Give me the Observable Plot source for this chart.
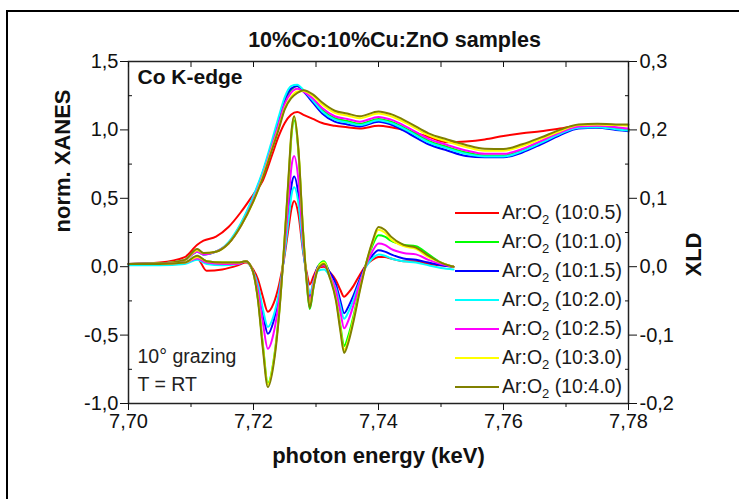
<!DOCTYPE html>
<html>
<head>
<meta charset="utf-8">
<script src="https://cdn.jsdelivr.net/npm/d3@7"></script>
<script src="https://cdn.jsdelivr.net/npm/@observablehq/plot@0.6"></script>
<style>
  html, body { margin: 0; padding: 0; background: #fff; width: 739px; height: 499px; overflow: hidden; }
  #wrap { position: relative; width: 739px; height: 499px; }
  #border { position: absolute; left: 6px; top: 10px; width: 900px; height: 700px; border: 2px solid #000; box-sizing: border-box; }
  #chart { position: absolute; left: 0; top: 0; }
  #legend { position: absolute; left: 455px; top: 198px; font-family: "Liberation Sans", Arial, sans-serif; font-size: 19.5px; color: #1a1a1a; }
  .item { height: 29px; display: flex; align-items: center; white-space: nowrap; }
  .sw { display: inline-block; width: 44px; height: 2px; margin-right: 3px; }
  sub { font-size: 13px; vertical-align: -5px; line-height: 0; }
</style>
</head>
<body>
<div id="wrap">
  <div id="border"></div>
  <div id="chart"></div>
  <div id="legend"></div>
</div>
<script>
// ---------- data ----------
const seriesNames = ["10:0.5", "10:1.0", "10:1.5", "10:2.0", "10:2.5", "10:3.0", "10:4.0"];
const seriesColors = ["#ff0000", "#00ff00", "#0000ff", "#00ffff", "#ff00ff", "#ffff00", "#808000"];

// normalized XANES (left axis), photon energy in keV
const xanesE = [7.700, 7.705, 7.709, 7.711, 7.712, 7.714, 7.716, 7.718, 7.720, 7.7215, 7.723, 7.724, 7.725, 7.726, 7.727, 7.728, 7.7295, 7.731, 7.733, 7.735, 7.737, 7.740, 7.742, 7.745, 7.748, 7.751, 7.754, 7.757, 7.760, 7.763, 7.766, 7.769, 7.772, 7.775, 7.778, 7.780];
const xanes05 = [0.02,0.03,0.07,0.16,0.19,0.22,0.29,0.40,0.53,0.63,0.82,0.95,1.05,1.11,1.13,1.11,1.08,1.05,1.03,1.02,1.01,1.03,1.02,0.99,0.95,0.91,0.915,0.93,0.955,0.975,0.99,1.01,1.03,1.02,1.01,1.005];
const xanes10 = [0.02,0.025,0.05,0.11,0.09,0.11,0.17,0.31,0.50,0.68,0.90,1.06,1.21,1.29,1.32,1.29,1.22,1.145,1.085,1.065,1.045,1.08,1.06,0.995,0.92,0.875,0.835,0.812,0.812,0.85,0.91,0.975,1.02,1.025,1.015,1.005];
const xanes15 = [0.02,0.025,0.05,0.11,0.09,0.11,0.17,0.31,0.51,0.69,0.91,1.07,1.22,1.30,1.32,1.28,1.20,1.12,1.06,1.04,1.025,1.06,1.04,0.97,0.895,0.85,0.81,0.80,0.80,0.835,0.895,0.96,1.01,1.015,1.00,0.99];
const xanes20 = [0.02,0.025,0.05,0.11,0.09,0.11,0.18,0.32,0.52,0.70,0.93,1.09,1.24,1.32,1.33,1.29,1.215,1.135,1.075,1.055,1.035,1.07,1.05,0.985,0.91,0.865,0.825,0.805,0.805,0.845,0.905,0.97,1.015,1.02,1.005,0.995];
const xanes25 = [0.02,0.025,0.05,0.11,0.09,0.11,0.17,0.30,0.49,0.67,0.89,1.04,1.19,1.27,1.30,1.28,1.23,1.16,1.10,1.08,1.06,1.095,1.075,1.01,0.935,0.89,0.85,0.825,0.825,0.86,0.92,0.98,1.025,1.03,1.02,1.01];
const xanes30 = [0.02,0.025,0.05,0.12,0.10,0.11,0.17,0.30,0.48,0.66,0.87,1.01,1.16,1.24,1.28,1.285,1.25,1.185,1.125,1.105,1.085,1.12,1.10,1.035,0.96,0.915,0.875,0.848,0.848,0.882,0.935,0.99,1.035,1.04,1.035,1.03];
const xanes40 = [0.02,0.025,0.05,0.13,0.10,0.11,0.17,0.30,0.48,0.65,0.86,1.00,1.15,1.23,1.27,1.29,1.26,1.20,1.14,1.12,1.10,1.135,1.115,1.05,0.975,0.93,0.89,0.862,0.86,0.895,0.945,1.00,1.04,1.045,1.04,1.04];

// XLD (right axis)
const xldE = [7.700, 7.705, 7.709, 7.711, 7.7125, 7.715, 7.7175, 7.7188, 7.7198, 7.7207, 7.7215, 7.7223, 7.7232, 7.7241, 7.7249, 7.7256, 7.7261, 7.7265, 7.7272, 7.7279, 7.7285, 7.7290, 7.7296, 7.7303, 7.7313, 7.7322, 7.7332, 7.7339, 7.7345, 7.7352, 7.7360, 7.7370, 7.7380, 7.7390, 7.7400, 7.7410, 7.7420, 7.7440, 7.7460, 7.7480, 7.7500, 7.7520];
const xld05 = [0.004,0.004,0.006,0.012,-0.006,-0.004,0.002,0.006,-0.002,-0.018,-0.044,-0.066,-0.054,-0.026,0.012,0.056,0.086,0.096,0.076,0.024,-0.008,-0.026,-0.014,-0.002,0.000,-0.008,-0.020,-0.034,-0.044,-0.038,-0.028,-0.012,0.002,0.010,0.014,0.014,0.012,0.008,0.008,0.004,0.002,0.000];
const xld10 = [0.004,0.004,0.006,0.014,0.008,0.006,0.006,0.008,-0.004,-0.046,-0.114,-0.170,-0.138,-0.066,0.028,0.124,0.194,0.214,0.166,0.054,-0.022,-0.062,-0.030,0.000,0.008,-0.012,-0.046,-0.086,-0.116,-0.100,-0.072,-0.030,0.004,0.030,0.046,0.044,0.038,0.032,0.030,0.018,0.006,0.000];
const xld15 = [0.004,0.004,0.006,0.012,0.006,0.004,0.004,0.008,-0.004,-0.028,-0.068,-0.098,-0.080,-0.040,0.016,0.078,0.120,0.132,0.104,0.032,-0.014,-0.044,-0.022,0.000,0.004,-0.008,-0.026,-0.050,-0.068,-0.058,-0.042,-0.018,0.002,0.016,0.024,0.022,0.018,0.012,0.010,0.006,0.002,0.000];
const xld20 = [0.002,0.002,0.004,0.010,0.004,0.002,0.004,0.008,-0.004,-0.026,-0.062,-0.088,-0.072,-0.036,0.014,0.068,0.106,0.116,0.092,0.028,-0.014,-0.040,-0.022,-0.006,-0.004,-0.014,-0.032,-0.058,-0.076,-0.066,-0.048,-0.022,0.000,0.012,0.018,0.016,0.012,0.008,0.006,0.002,-0.002,-0.004];
const xld25 = [0.004,0.004,0.006,0.012,0.006,0.004,0.004,0.008,-0.004,-0.034,-0.082,-0.120,-0.098,-0.048,0.020,0.096,0.148,0.162,0.126,0.040,-0.016,-0.050,-0.024,-0.002,0.002,-0.012,-0.036,-0.066,-0.090,-0.078,-0.056,-0.024,0.002,0.022,0.034,0.032,0.026,0.020,0.018,0.010,0.004,0.000];
const xld30 = [0.004,0.004,0.006,0.014,0.008,0.006,0.006,0.008,-0.004,-0.046,-0.116,-0.172,-0.140,-0.068,0.030,0.128,0.198,0.220,0.170,0.056,-0.018,-0.056,-0.028,-0.002,0.006,-0.014,-0.048,-0.090,-0.122,-0.106,-0.076,-0.034,0.004,0.034,0.054,0.050,0.040,0.030,0.026,0.014,0.006,0.000];
const xld40 = [0.004,0.004,0.006,0.016,0.008,0.006,0.006,0.008,-0.004,-0.048,-0.120,-0.176,-0.144,-0.070,0.030,0.130,0.200,0.220,0.170,0.056,-0.020,-0.060,-0.030,-0.004,0.004,-0.016,-0.050,-0.094,-0.126,-0.110,-0.080,-0.036,0.004,0.036,0.058,0.054,0.044,0.032,0.028,0.016,0.006,0.000];

// ticks
const xTicks = [7.70, 7.72, 7.74, 7.76, 7.78];
const xMinor = [7.71, 7.73, 7.75, 7.77];
const xanesTicks = [-1.0, -0.5, 0.0, 0.5, 1.0, 1.5];
const xanesMinor = [-0.75, -0.25, 0.25, 0.75, 1.25];
const xldTicks = [-0.2, -0.1, 0.0, 0.1, 0.2, 0.3];
const xldMinor = [-0.15, -0.05, 0.05, 0.15, 0.25];
const xldToXanes = 5; // right-axis range [-0.2,0.3] spans the same height as [-1.0,1.5]

// ---------- build tables ----------
const xanesSets = [xanes05, xanes10, xanes15, xanes20, xanes25, xanes30, xanes40];
const xldSets = [xld05, xld10, xld15, xld20, xld25, xld30, xld40];
const xanesRows = [], xldRows = [];
xanesSets.forEach((arr, s) => arr.forEach((v, i) => xanesRows.push({s, e: xanesE[i], v})));
xldSets.forEach((arr, s) => arr.forEach((v, i) => xldRows.push({s, e: xldE[i], v: v * xldToXanes})));

const comma = (d, n) => d.toFixed(n).replace(".", ",");
const empty = () => "";

const lineMarks = [];
for (let s = 0; s < 7; s++) {
  lineMarks.push(Plot.line(xanesRows.filter(d => d.s === s), {x: "e", y: "v", stroke: seriesColors[s], strokeWidth: 2, curve: "monotone-x"}));
}
for (let s = 0; s < 7; s++) {
  lineMarks.push(Plot.line(xldRows.filter(d => d.s === s), {x: "e", y: "v", stroke: seriesColors[s], strokeWidth: 2, curve: "monotone-x"}));
}

const font = "'Liberation Sans', Arial, sans-serif";
const chart = Plot.plot({
  width: 739,
  height: 499,
  marginLeft: 128,
  marginRight: 111,
  marginTop: 61,
  marginBottom: 96,
  x: {domain: [7.70, 7.78]},
  y: {domain: [-1.0, 1.5]},
  style: {fontFamily: font, fontSize: "20px", color: "#111", background: "transparent", overflow: "visible"},
  marks: [
    ...lineMarks,
    Plot.frame({stroke: "#222", strokeWidth: 1.5}),
    Plot.axisX({anchor: "bottom", ticks: xTicks, tickSize: 7, tickPadding: 3, tickFormat: d => comma(d, 2), label: null, fontSize: 20}),
    Plot.axisX({anchor: "bottom", ticks: xMinor, tickSize: 4, tickFormat: empty, label: null}),
    Plot.axisX({anchor: "top", ticks: [...xTicks, ...xMinor], tickSize: -5, tickFormat: empty, label: null}),
    Plot.axisY({anchor: "left", ticks: xanesTicks, tickSize: 8, tickPadding: 2, tickFormat: d => comma(d, 1), label: null, fontSize: 20}),
    Plot.axisY({anchor: "left", ticks: xanesMinor, tickSize: -4, tickFormat: empty, label: null}),
    Plot.axisY({anchor: "right", ticks: xldTicks.map(t => t * xldToXanes), tickSize: 8, tickPadding: 3, tickFormat: d => comma(d / xldToXanes, 1), label: null, fontSize: 20}),
    Plot.axisY({anchor: "right", ticks: xldMinor.map(t => t * xldToXanes), tickSize: -4, tickFormat: empty, label: null}),
    Plot.text(["10%Co:10%Cu:ZnO samples"], {frameAnchor: "top", lineAnchor: "middle", dx: 16, dy: -21, fontWeight: "bold", fontSize: 21.5, fill: "#111"}),
    Plot.text(["Co K-edge"], {frameAnchor: "top-left", textAnchor: "start", lineAnchor: "middle", dx: 9, dy: 16, fontWeight: "bold", fontSize: 21, fill: "#111"}),
    Plot.text(["10° grazing"], {frameAnchor: "bottom-left", textAnchor: "start", lineAnchor: "middle", dx: 9, dy: -47, fontSize: 19.5, fill: "#222"}),
    Plot.text(["T = RT"], {frameAnchor: "bottom-left", textAnchor: "start", lineAnchor: "middle", dx: 9, dy: -19, fontSize: 19.5, fill: "#222"}),
    Plot.text(["norm. XANES"], {frameAnchor: "left", dx: -66, rotate: -90, fontWeight: "bold", fontSize: 22, fill: "#111"}),
    Plot.text(["XLD"], {frameAnchor: "right", dx: 65, rotate: -90, fontWeight: "bold", fontSize: 22, fill: "#111"}),
    Plot.text(["photon energy (keV)"], {frameAnchor: "bottom", lineAnchor: "middle", dy: 52, fontWeight: "bold", fontSize: 22, fill: "#111"})
  ]
});
document.getElementById("chart").appendChild(chart);

const legend = document.getElementById("legend");
seriesNames.forEach((name, i) => {
  const row = document.createElement("div");
  row.className = "item";
  row.innerHTML = `<span class="sw" style="background:${seriesColors[i]}"></span><span>Ar:O<sub>2</sub> (${name})</span>`;
  legend.appendChild(row);
});
</script>
</body>
</html>
